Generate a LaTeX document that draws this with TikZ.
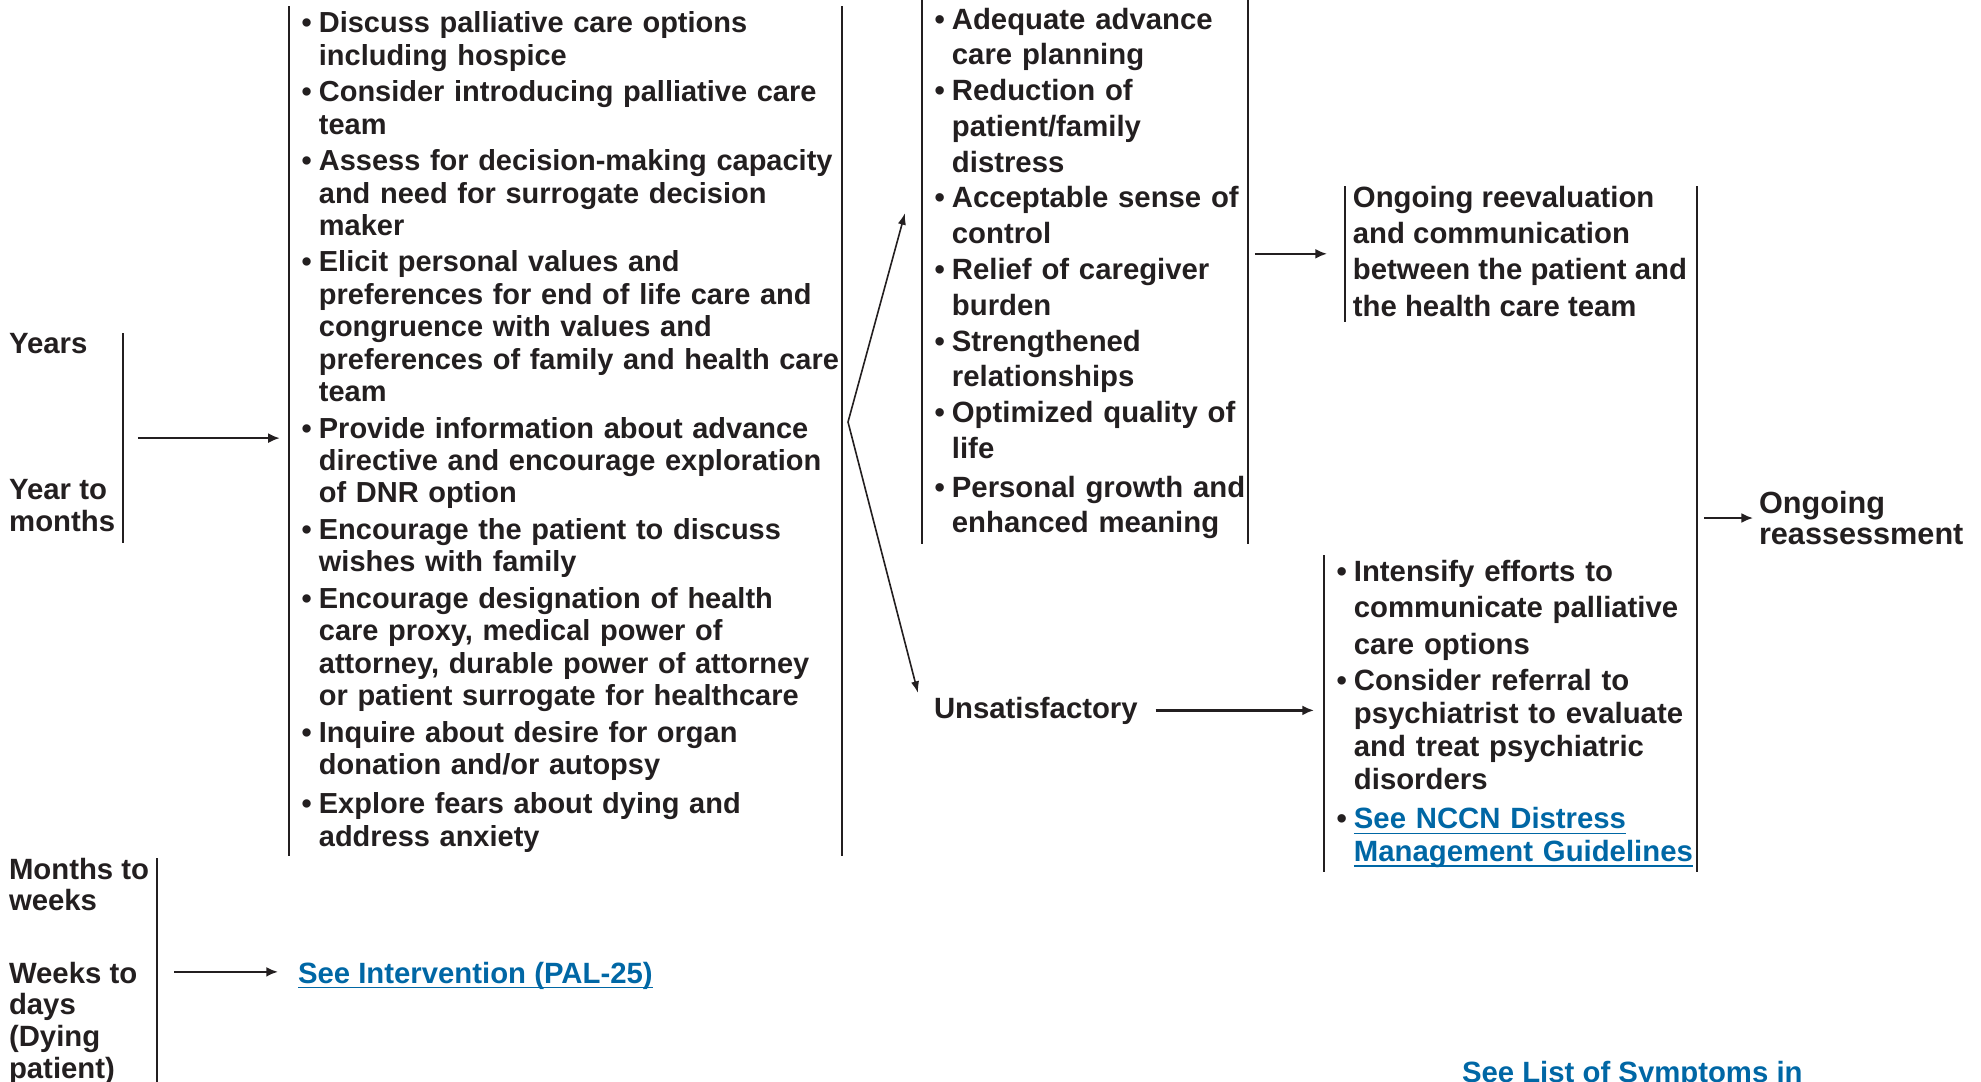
\documentclass[tikz,border=0pt]{standalone}
\usepackage{fontspec}
\setmainfont{Liberation Sans}
\usetikzlibrary{arrows.meta}

\definecolor{ink}{RGB}{35,31,32}
\definecolor{linkblue}{RGB}{0,103,165}

\newcommand{\fsz}[2][10pt]{\fontsize{#1}{#2}\selectfont\bfseries}
\newcommand{\itm}[1]{\par\lineskip=0pt\noindent\hbox to 9.7pt{\hskip3.8pt\textbullet\hfil}\begin{tabular}[t]{@{}l@{}}#1\end{tabular}}
\newcommand{\lnk}[1]{\textcolor{linkblue}{\underline{\smash{#1}}}}
\newcommand{\dropby}[1]{\rule[-#1]{0pt}{0pt}}

\begin{document}
\begin{tikzpicture}[x=0.341pt, y=-0.341pt]

% Define styles
\tikzstyle{block} = [align=left, text=ink, inner xsep=0.5pt, inner ysep=0pt, outer sep=0pt, anchor=north west]
\tikzstyle{word} = [text=ink, inner sep=0pt, outer sep=0pt, anchor=base west, text height=7.3pt, text depth=2.1pt, font=\fsz{12pt}]
\tikzstyle{side} = [draw=ink, line width=0.7pt]
\tikzstyle{line} = [draw=ink, line width=0.8pt, -{Latex[length=4pt, width=3.4pt]}]
\tikzstyle{branch} = [draw=ink, line width=0.55pt, -{Latex[length=4pt, width=2.8pt]}]

\useasboundingbox (0,0) rectangle (1981,1081);

% Time frames
\node[block, anchor=north east, inner xsep=2.7pt, font=\fsz{10.9pt}] (early) at (123,333) {Years\\[38.9pt]Year to\\months\dropby{4.1pt}};
\node[block, anchor=north east, inner xsep=2.7pt, font=\fsz{10.8pt}] (late) at (157,858) {Months to\\weeks\\[13.8pt]Weeks to\\days\\(Dying\\patient)};

% Interventions
\node[block, text width=187.6pt, font={\fsz[9.88pt]{11.05pt}}] (actions) at (289,6) {\par\nointerlineskip\setlength{\parskip}{1.4pt}%
\itm{Discuss palliative care options\\including hospice}
\itm{Consider introducing palliative care\\team}
\itm{Assess for decision-making capacity\\and need for surrogate decision\\maker}
\itm{Elicit personal values and\\preferences for end of life care and\\congruence with values and\\preferences of family and health care\\team}
\itm{Provide information about advance\\directive and encourage exploration\\of DNR option}
\itm{Encourage the patient to discuss\\wishes with family}
\itm{Encourage designation of health\\care proxy, medical power of\\attorney, durable power of attorney\\or patient surrogate for healthcare}
\itm{Inquire about desire for organ\\donation and/or autopsy}
\itm{Explore fears about dying and\\address anxiety}};
\node[word] (intervention) at (298,983) {\lnk{See Intervention (PAL-25)}};

% Outcomes
\node[block, text width=110.1pt, font=\fsz{12.2pt}] (outcomes) at (922,4) {\par\nointerlineskip%
\itm{Adequate advance\\care planning}
\itm{Reduction of\\patient/family\\distress}
\itm{Acceptable sense of\\control}
\itm{Relief of caregiver\\burden}
\itm{Strengthened\\relationships}
\itm{Optimized quality of\\life}
\itm{Personal growth and\\enhanced meaning}};
\node[word] (unsat) at (934,718) {Unsatisfactory};

% Follow-up
\node[block, inner xsep=2.7pt, font=\fsz{12.4pt}] (review) at (1345,186) {Ongoing reevaluation\\and communication\\between the patient and\\the health care team\dropby{1.8pt}};
\node[block, text width=126.2pt, font=\fsz{11.25pt}] (support) at (1324,555) {\par\nointerlineskip\setlength{\parskip}{1.1pt}%
\itm{Intensify efforts to\\[1.25pt]communicate palliative\\[1.25pt]care options}
\itm{Consider referral to\\psychiatrist to evaluate\\and treat psychiatric\\disorders}
\itm{\lnk{See NCCN Distress}\\\lnk{Management Guidelines}}};
\node[block, anchor=west, inner xsep=0pt, font={\fsz[10.45pt]{10.3pt}}] (reassess) at (1759,518) {Ongoing\\reassessment};
\node[word] (symptoms) at (1462,1082) {\lnk{See List of Symptoms in}};

\coordinate (fork) at (848,422);
\coordinate (goodend) at (905,213);
\coordinate (badend) at (918,693);

% Side rules
\draw[side] (early.north east) -- (early.south east);
\draw[side] (late.north east) -- (late.south east);
\draw[side] (actions.north west) -- (actions.south west);
\draw[side] (actions.north east) -- (actions.south east);
\draw[side, shorten <=-1.5pt] (outcomes.north west) -- (outcomes.south west);
\draw[side, shorten <=-1.5pt] (outcomes.north east) -- (outcomes.south east);
\draw[side] (review.north west) -- (review.south west);
\draw[side] (support.north west) -- (support.south west);
\draw[side] (review.north -| support.east) -- (support.south east);

% Arrows
\draw[line, shorten <=5.1pt, shorten >=3.1pt] (early.east) -- (early.east -| actions.west);
\draw[line, shorten <=5.8pt, shorten >=6.8pt] ([yshift=1.2pt]late.east |- intervention.west) -- ([yshift=1.2pt]intervention.west);
\draw[branch] (fork) -- (goodend);
\draw[branch] (fork) -- (badend);
\draw[line, shorten <=2.4pt, shorten >=6.1pt] (review.west -| outcomes.east) -- (review.west);
\draw[line, shorten <=6.1pt, shorten >=3.4pt] (unsat.east) -- (unsat.east -| support.west);
\draw[line, shorten <=2.4pt, shorten >=2pt] (reassess.west -| support.east) -- (reassess.west);

\end{tikzpicture}
\end{document}
